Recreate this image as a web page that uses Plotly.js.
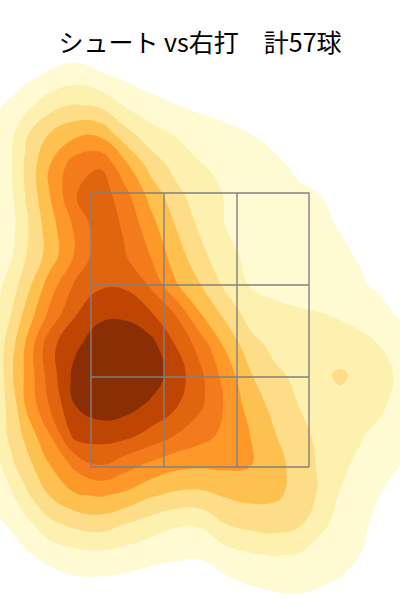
<!DOCTYPE html>
<html>
<head>
<meta charset="utf-8">
<script src="https://cdn.plot.ly/plotly-3.0.1.min.js"></script>
<style>html,body{margin:0;padding:0;background:#fff}</style>
</head>
<body>
<div id="chart" style="width:400px;height:600px"></div>
<script>
const titleText = 'シュート vs右打　計57球';
const gridX = [-2,-1.88,-1.75,-1.5,-1.25,-1,-0.75,-0.5,-0.25,0,0.25,0.5,0.75,1,1.2,1.4,1.6,1.8,2];
const gridY = [5.55,5.25,4.95,4.65,4.35,4.05,3.75,3.45,3.15,2.85,2.55,2.25,1.95,1.65,1.35,1.05,0.75,0.45,0.15,0];
const density = [
[0,.05,.1,.3,.35,.25,.1,0,0,0,0,0,0,0,0,0,0,0,0],
[.3,.55,.7,1.15,1.45,1.1,.75,.4,.2,.05,0,0,0,0,0,0,0,0,0],
[.95,1.2,1.65,2.6,3.05,2.8,1.9,1.4,1.03,.8,.6,.3,.1,0,0,0,0,0,0],
[1.5,1.85,2.85,4.1,4.8,4.85,3.45,2.43,1.95,1.5,1.3,1.03,.7,.4,.2,0,0,0,0],
[1.6,2,3.1,5,6.55,6.9,5.25,3.65,2.65,2.06,1.75,1.3,1.2,.75,.5,.2,0,0,0],
[1.5,1.9,3,5,6.95,7.6,6.35,4.7,3.35,2.44,1.95,1.5,1.4,1.2,1,.65,.3,.05,0],
[1.45,1.75,2.75,4.6,6.2,7.6,6.85,5.4,4,2.8,2,1.7,1.55,1.35,1.15,.95,.6,.3,.05],
[1.55,1.95,2.9,4.45,6.1,7.55,7.05,6,4.5,3.35,2.2,1.85,1.7,1.5,1.3,1.15,.92,.5,.2],
[1.85,2.55,3.5,5.5,7.15,7.85,7.85,6.9,5.15,4.05,2.8,1.95,1.85,1.7,1.5,1.33,1.12,.85,.5],
[2.2,3.1,4.25,6.3,7.95,8.8,8.8,8.2,7,5.1,3.8,2.6,2.15,2.1,2.05,1.92,1.68,1.3,.9],
[2.6,3.7,5,7.7,8.8,9.6,9.9,9.4,8,6.6,4.85,3.4,2.7,2.45,2.42,2.4,2.3,1.98,1.5],
[2.6,3.9,5.1,7.5,9.3,10,10,9.6,8.55,7.25,5.6,4.1,3.2,2.75,2.78,3.15,2.78,2.3,1.85],
[2.6,3.45,5,7.1,9,9.55,9.4,8.85,8.15,7.2,5.9,4.6,3.65,2.95,2.75,2.7,2.55,2.2,1.6],
[2.55,3.3,4.2,6,8.35,8.45,8.3,7.7,7,6.4,5.75,5,4.05,3.3,2.75,2.45,2.1,1.7,1.25],
[1.95,2.85,3.55,5,6.25,7,6.4,5.8,5.3,5.15,5.2,5.05,4.35,3.55,2.85,2.2,1.8,1.4,1],
[1.45,1.9,2.75,4.05,4.9,5.1,4.8,4.15,3.8,3.75,4.1,4.3,4.2,3.6,2.85,1.95,1.5,1,.6],
[.85,1.15,1.6,2.7,3.2,3.4,2.95,2.5,2.1,2.1,2.95,3.25,3.35,3.05,2.2,1.7,1.2,.75,.35],
[.25,.55,.85,1.3,1.65,1.75,1.6,1.3,1.15,1.1,1.55,1.9,2.05,1.9,1.6,1.4,1,.6,.25],
[0,.1,.2,.5,.7,.7,.6,.5,.45,.45,.7,1,1.15,1.2,1.05,.85,.6,.25,.05],
[0,0,0,.1,.3,.3,.2,.1,.1,.2,.4,.6,.8,.85,.7,.5,.25,.05,0]
];
const bandColors = ['#ffffff','#fffad2','#fef0ae','#fedd88','#fec04e','#fd9829','#f37b1c','#e1640e','#bf4502','#8a2f05'];
const zoneX = [-1.09,-0.36,0.37,1.09];
const zoneY = [4.07,3.15,2.23,1.33];

const colorscale = [];
bandColors.forEach((c,i)=>{ colorscale.push([i/10,c]); colorscale.push([(i+1)/10,c]); });

const shapes = [];
zoneX.forEach(x=>shapes.push({type:'line',xref:'x',yref:'y',x0:x,x1:x,y0:zoneY[0],y1:zoneY[3],line:{color:'#808080',width:1.4}}));
zoneY.forEach(y=>shapes.push({type:'line',xref:'x',yref:'y',x0:zoneX[0],x1:zoneX[3],y0:y,y1:y,line:{color:'#808080',width:1.4}}));

Plotly.newPlot('chart',[{
  type:'contour',x:gridX,y:gridY,z:density,
  zauto:false,zmin:0,zmax:10,colorscale:colorscale,showscale:false,
  contours:{coloring:'fill',start:1,end:9,size:1},
  line:{width:0,smoothing:1.3},hoverinfo:'skip'
}],{
  width:400,height:600,margin:{l:0,r:0,t:0,b:0},
  paper_bgcolor:'#fff',plot_bgcolor:'rgba(0,0,0,0)',
  title:{text:titleText,x:0.5,xanchor:'center',y:0.943,yanchor:'top',yref:'paper',font:{family:'"Noto Sans CJK JP",sans-serif',size:25,color:'#000'}},
  xaxis:{range:[-2,2],visible:false,fixedrange:true},
  yaxis:{range:[0,6],visible:false,fixedrange:true},
  shapes:shapes,showlegend:false
},{staticPlot:true,displayModeBar:false});
</script>
</body>
</html>
